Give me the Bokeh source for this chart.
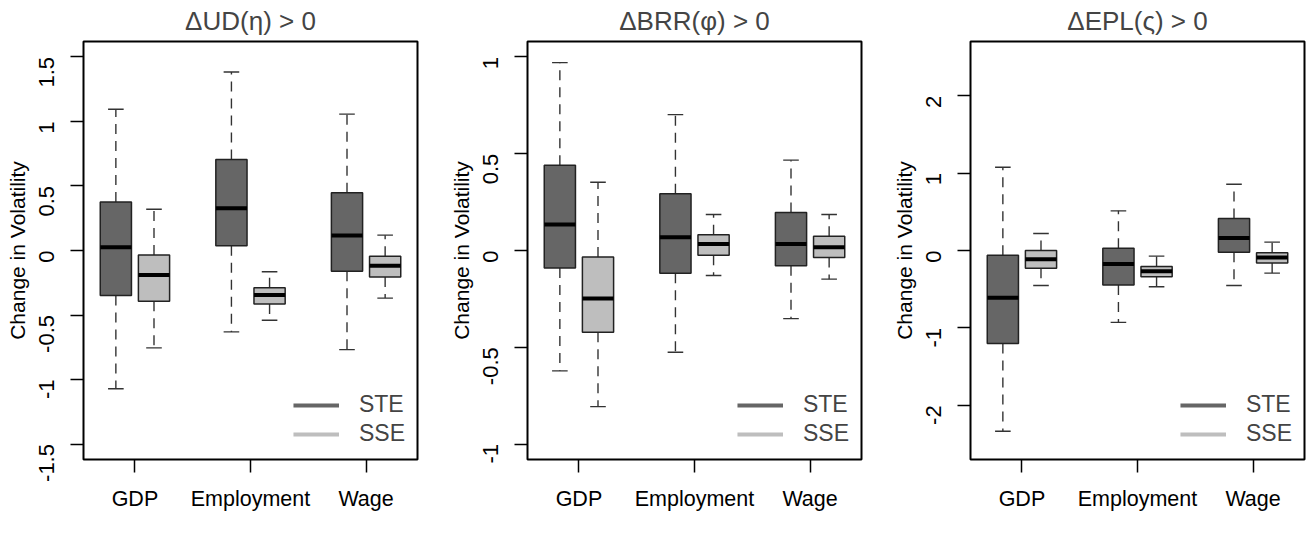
import math
from bokeh.plotting import figure
from bokeh.layouts import row
from bokeh.models import (Range1d, FixedTicker, CustomJSTickFormatter, Legend, LegendItem)
from bokeh.embed import file_html
from bokeh.resources import INLINE

categories = ["GDP", "Employment", "Wage"]
titles = ["\u0394UD(\u03b7) > 0", "\u0394BRR(\u03c6) > 0", "\u0394EPL(\u03c2) > 0"]
y_limits = [1.62, 1.08, 2.7]
y_ticks = [[-1.5, -1, -0.5, 0, 0.5, 1, 1.5],
           [-1, -0.5, 0, 0.5, 1],
           [-2, -1, 0, 1, 2]]

# per panel: whisker low, Q1, median, Q3, whisker high for GDP, Employment, Wage
ud_ste_lo = [-1.072, -0.631, -0.768]
ud_ste_q1 = [-0.348, 0.036, -0.160]
ud_ste_med = [0.026, 0.327, 0.116]
ud_ste_q3 = [0.376, 0.706, 0.448]
ud_ste_hi = [1.095, 1.384, 1.057]
ud_sse_lo = [-0.755, -0.541, -0.369]
ud_sse_q1 = [-0.394, -0.415, -0.206]
ud_sse_med = [-0.190, -0.345, -0.119]
ud_sse_q3 = [-0.034, -0.289, -0.044]
ud_sse_hi = [0.320, -0.165, 0.119]

brr_ste_lo = [-0.622, -0.526, -0.352]
brr_ste_q1 = [-0.091, -0.117, -0.079]
brr_ste_med = [0.134, 0.069, 0.034]
brr_ste_q3 = [0.440, 0.293, 0.197]
brr_ste_hi = [0.971, 0.702, 0.467]
brr_sse_lo = [-0.807, -0.129, -0.148]
brr_sse_q1 = [-0.422, -0.024, -0.036]
brr_sse_med = [-0.248, 0.034, 0.017]
brr_sse_q3 = [-0.033, 0.081, 0.074]
brr_sse_hi = [0.353, 0.186, 0.186]

epl_ste_lo = [-2.335, -0.929, -0.452]
epl_ste_q1 = [-1.200, -0.447, -0.022]
epl_ste_med = [-0.611, -0.176, 0.163]
epl_ste_q3 = [-0.060, 0.030, 0.413]
epl_ste_hi = [1.075, 0.512, 0.856]
epl_sse_lo = [-0.452, -0.469, -0.292]
epl_sse_q1 = [-0.228, -0.340, -0.163]
epl_sse_med = [-0.112, -0.267, -0.090]
epl_sse_q3 = [0.000, -0.206, -0.030]
epl_sse_hi = [0.219, -0.073, 0.108]

panels = [
    ((ud_ste_lo, ud_ste_q1, ud_ste_med, ud_ste_q3, ud_ste_hi),
     (ud_sse_lo, ud_sse_q1, ud_sse_med, ud_sse_q3, ud_sse_hi)),
    ((brr_ste_lo, brr_ste_q1, brr_ste_med, brr_ste_q3, brr_ste_hi),
     (brr_sse_lo, brr_sse_q1, brr_sse_med, brr_sse_q3, brr_sse_hi)),
    ((epl_ste_lo, epl_ste_q1, epl_ste_med, epl_ste_q3, epl_ste_hi),
     (epl_sse_lo, epl_sse_q1, epl_sse_med, epl_sse_q3, epl_sse_hi)),
]

FONT = "Liberation Sans"
STE_COL = "#666666"
SSE_COL = "#bebebe"
BOX_W = 0.27
OFFSET = 0.165


def add_boxes(p, stats, shift, color):
    lo, q1, med, q3, hi = stats
    xs = [i + 1 + shift for i in range(len(categories))]
    left = [x - BOX_W / 2 for x in xs]
    right = [x + BOX_W / 2 for x in xs]
    cl = [x - BOX_W / 4 for x in xs]
    cr = [x + BOX_W / 4 for x in xs]
    p.segment(xs, q3, xs, hi, line_color="#333333", line_width=1.4, line_dash="10 7")
    p.segment(xs, q1, xs, lo, line_color="#333333", line_width=1.4, line_dash="10 7")
    p.segment(cl, hi, cr, hi, line_color="#333333", line_width=1.4)
    p.segment(cl, lo, cr, lo, line_color="#333333", line_width=1.4)
    p.vbar(x=xs, width=BOX_W, bottom=q1, top=q3, fill_color=color,
           line_color="#222222", line_width=1.5)
    p.segment(left, med, right, med, line_color="black", line_width=4)


def make_panel(k, width, left_border, right_border):
    ylim = y_limits[k]
    p = figure(width=width, height=526, output_backend="svg", toolbar_location=None,
               x_range=Range1d(0.555, 3.445), y_range=Range1d(-ylim, ylim),
               min_border_left=left_border, min_border_right=right_border,
               min_border_top=41, min_border_bottom=67)
    p.title.text = titles[k]
    p.title.align = "center"
    p.title.vertical_align = "top"
    p.title.text_font = FONT
    p.title.text_font_size = "26px"
    p.title.text_font_style = "normal"
    p.title.standoff = 8
    p.grid.visible = False
    p.outline_line_color = "black"
    p.outline_line_width = 2
    p.outline_line_alpha = 1
    p.background_fill_color = "white"

    ste, sse = panels[k]
    add_boxes(p, ste, -OFFSET, STE_COL)
    add_boxes(p, sse, OFFSET, SSE_COL)

    p.xaxis.ticker = FixedTicker(ticks=[1, 2, 3])
    p.xaxis.major_label_overrides = {1: categories[0], 2: categories[1], 3: categories[2]}
    p.yaxis.ticker = FixedTicker(ticks=y_ticks[k])
    p.yaxis.formatter = CustomJSTickFormatter(code="return tick.toString()")
    p.yaxis.major_label_orientation = math.pi / 2
    p.yaxis.axis_label = "Change in Volatility"
    for ax in (p.xaxis[0], p.yaxis[0]):
        ax.axis_line_color = None
        ax.major_tick_in = 0
        ax.major_tick_out = 13
        ax.major_tick_line_width = 1.5
        ax.major_tick_line_color = "black"
        ax.minor_tick_line_color = None
        ax.major_label_text_font = FONT
        ax.major_label_text_color = "black"
        ax.axis_label_text_font = FONT
        ax.axis_label_text_font_style = "normal"
        ax.axis_label_text_color = "black"
    p.xaxis.major_label_text_font_size = "21.5px"
    p.xaxis.major_label_standoff = 14
    p.yaxis.major_label_text_font_size = "22px"
    p.yaxis.major_label_standoff = 24
    p.yaxis.axis_label_text_font_size = "21px"
    p.yaxis.axis_label_standoff = 0

    nan = float("nan")
    r1 = p.line([nan, nan], [nan, nan], line_color=STE_COL, line_width=4)
    r2 = p.line([nan, nan], [nan, nan], line_color=SSE_COL, line_width=4)
    leg = Legend(items=[LegendItem(label="STE", renderers=[r1]),
                        LegendItem(label="SSE", renderers=[r2])],
                 location="bottom_right", border_line_color=None,
                 background_fill_alpha=0, glyph_width=46, glyph_height=26,
                 label_standoff=20, label_text_font=FONT, label_text_font_size="23px",
                 label_height=26, spacing=2, padding=0, margin=12)
    p.add_layout(leg)
    return p


p1 = make_panel(0, 444, 83, 27)
p2 = make_panel(1, 443, 83, 26)
p3 = make_panel(2, 419, 83, 2)
layout = row(p1, p2, p3)

open("out.html", "w").write(file_html(layout, INLINE))
